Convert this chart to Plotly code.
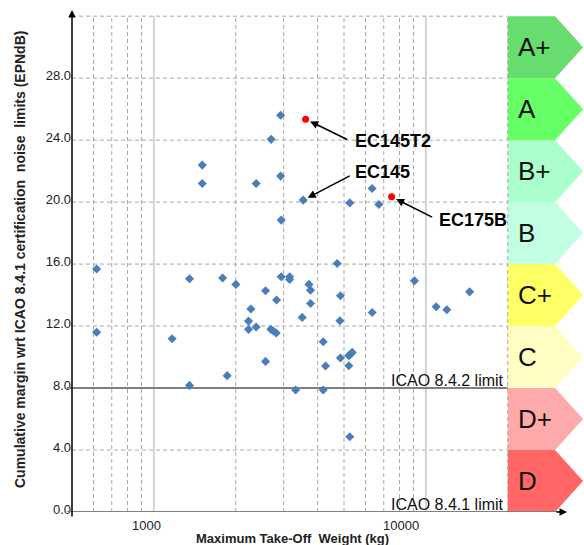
import math
import plotly.graph_objects as go

# ---------------- data ----------------
mtow_kg = [616, 616, 1352, 1789, 2002, 2574, 2273, 2228, 2228, 2377, 2692, 2750, 2817, 2825,
           2938, 3155, 3155, 1167, 2574, 1860, 1352, 3320, 4720, 3716, 3766, 4852, 3766, 3510,
           4828, 6345, 9080, 10910, 11940, 14480, 4194, 4852, 5209, 5286, 5360, 4276, 5209,
           4194, 5250, 2925, 2698, 1506, 1506, 2377, 2925, 3540, 2938, 6345, 5250, 6714]
margin_epndb = [15.68, 11.6, 15.05, 15.1, 14.69, 14.28, 13.1, 12.32, 11.79, 11.94, 11.79, 11.68, 11.55, 13.68,
                15.18, 15.18, 15.01, 11.18, 9.72, 8.8, 8.17, 7.87, 16.04, 14.69, 14.32, 13.96, 13.46, 12.56,
                12.34, 12.88, 14.92, 13.25, 13.05, 14.21, 10.99, 9.94, 10.09, 10.19, 10.3, 9.42, 9.44,
                7.87, 4.86, 25.61, 24.05, 22.39, 21.2, 21.2, 21.68, 20.13, 18.84, 20.88, 19.95, 19.85]

highlight_mtow = [3613, 7482]
highlight_margin = [25.35, 20.34]

callout_names = ["EC145T2", "EC145", "EC175B"]
callout_mtow = [3613, 3540, 7482]
callout_margin = [25.35, 20.13, 20.34]

grade_labels = ["D", "D+", "C", "C+", "B", "B+", "A", "A+"]
grade_lower = [0, 4, 8, 12, 16, 20, 24, 28]
grade_colors = ["#FF6666", "#FFAAAA", "#FFFFC4", "#FFFF66", "#C2FFE2", "#AAFFCC", "#66FF66", "#66DD6E"]

limit_labels = ["ICAO 8.4.1 limit", "ICAO 8.4.2 limit"]
limit_values = [0, 8]

y_tick_vals = [0, 4, 8, 12, 16, 20, 24, 28]
y_tick_text = ["0.0", "4.0", "8.0", "12.0", "16.0", "20.0", "24.0", "28.0"]
x_tick_vals = [1000, 10000]
x_tick_text = ["1000", "10000"]

y_grid = [4, 12, 16, 20, 24, 28, 32]
x_grid_minor = [600, 700, 800, 900, 2000, 3000, 4000, 5000, 6000, 7000, 8000, 9000, 20000]
x_grid_major = [1000, 10000]

# ---------------- figure ----------------
FONT = "Liberation Sans, Arial, sans-serif"
X_MIN, X_GRID_END = 500, 20000
Y_TOP = 32
BAND_W = 10 ** 0.174   # rectangle part of the grade arrows (factor on log axis)
BAND_TIP = 10 ** 0.277

fig = go.Figure()

# grade bands (arrow shapes)
for lab, lo, col in zip(grade_labels, grade_lower, grade_colors):
    hi = lo + 4
    xr = X_GRID_END * BAND_W
    xt = X_GRID_END * BAND_TIP
    fig.add_trace(go.Scatter(
        x=[X_GRID_END, xr, xt, xr, X_GRID_END, X_GRID_END],
        y=[lo, lo, (lo + hi) / 2, hi, hi, lo],
        mode="lines", fill="toself", fillcolor=col, line=dict(width=0, color=col),
        hoverinfo="skip", showlegend=False))

# horizontal dashed grid
gx, gy = [], []
for v in y_grid:
    gx += [X_MIN, X_GRID_END, None]
    gy += [v, v, None]
fig.add_trace(go.Scatter(x=gx, y=gy, mode="lines",
                         line=dict(color="#A8A8A8", width=1, dash="4px,3px"),
                         hoverinfo="skip", showlegend=False))
# vertical dashed grid
gx, gy = [], []
for v in x_grid_minor:
    gx += [v, v, None]
    gy += [0, Y_TOP, None]
fig.add_trace(go.Scatter(x=gx, y=gy, mode="lines",
                         line=dict(color="#A8A8A8", width=1, dash="4px,3px"),
                         hoverinfo="skip", showlegend=False))
gx, gy = [], []
for v in x_grid_major:
    gx += [v, v, None]
    gy += [0, Y_TOP, None]
fig.add_trace(go.Scatter(x=gx, y=gy, mode="lines",
                         line=dict(color="#C8C8C8", width=1.5),
                         hoverinfo="skip", showlegend=False))

# limit lines
limit_end = [31000, X_GRID_END]
for val, xe in zip(limit_values, limit_end):
    fig.add_trace(go.Scatter(x=[X_MIN, xe], y=[val, val], mode="lines",
                             line=dict(color="#808080", width=2),
                             hoverinfo="skip", showlegend=False))
    fig.add_shape(type="line", xref="paper", yref="y", x0=-0.01, x1=0, y0=val, y1=val,
                  line=dict(color="#808080", width=2))

# data points
fig.add_trace(go.Scatter(x=mtow_kg, y=margin_epndb, mode="markers",
                         marker=dict(symbol="diamond", size=7, color="#4A7EBB"),
                         showlegend=False))
fig.add_trace(go.Scatter(x=highlight_mtow, y=highlight_margin, mode="markers",
                         marker=dict(symbol="circle", size=7, color="#FF0000"),
                         showlegend=False))

ann = []
# axis arrows
ann.append(dict(xref="paper", yref="paper", x=0, y=1.0, ax=0, ay=508, text="",
                showarrow=True, arrowhead=2, arrowsize=1, arrowwidth=1.5, arrowcolor="black"))
ann.append(dict(xref="paper", yref="y", x=(567 - 72) / 512, y=0, ax=-12, ay=0, text="",
                showarrow=True, arrowhead=2, arrowsize=1, arrowwidth=1.5, arrowcolor="black"))

# grade labels
for lab, lo in zip(grade_labels, grade_lower):
    ann.append(dict(xref="x", yref="y", x=math.log10(X_GRID_END), y=lo + 2, xanchor="left",
                    yanchor="middle", xshift=8, text=lab, showarrow=False,
                    font=dict(family=FONT, size=26, color="#111111")))

# limit labels
for lab, val in zip(limit_labels, limit_values):
    ann.append(dict(xref="x", yref="y", x=math.log10(X_GRID_END), y=val, xanchor="right",
                    yanchor="bottom", xshift=-2, yshift=-3, text=lab, showarrow=False,
                    font=dict(family=FONT, size=16, color="#111111")))

# callouts
arrow_off = [(43, 21), (48, -25), (42, 21)]
text_off = [(87, -22), (79, 28), (81, -23)]
for name, xv, yv, (ax, ay), (tx, ty) in zip(callout_names, callout_mtow, callout_margin, arrow_off, text_off):
    ann.append(dict(xref="x", yref="y", x=math.log10(xv), y=yv, ax=ax, ay=ay, text="",
                    showarrow=True, arrowhead=2, arrowsize=1, arrowwidth=1.6,
                    arrowcolor="black", standoff=5))
    ann.append(dict(xref="x", yref="y", x=math.log10(xv), y=yv, xshift=tx, yshift=ty,
                    text="<b>%s</b>" % name, showarrow=False,
                    font=dict(family=FONT, size=18, color="black")))

# x tick labels
for v, t, sh in zip(x_tick_vals, x_tick_text, [-7, -25]):
    ann.append(dict(xref="x", yref="paper", x=math.log10(v), y=0, yanchor="top", yshift=-4,
                    xshift=sh, text=t, showarrow=False,
                    font=dict(family=FONT, size=13, color="#222222")))

# axis titles
ann.append(dict(xref="paper", yref="paper", x=(292 - 72) / 512, y=(512 - 538) / 502,
                xanchor="center", yanchor="middle", showarrow=False,
                text="<b>Maximum Take-Off  Weight (kg)</b>",
                font=dict(family=FONT, size=13, color="#222222")))
ann.append(dict(xref="paper", yref="paper", x=(20 - 72) / 512, y=(512 - 260) / 502,
                xanchor="center", yanchor="middle", showarrow=False, textangle=-90,
                text="<b>Cumulative margin wrt ICAO 8.4.1 certification  noise  limits (EPNdB)</b>",
                font=dict(family=FONT, size=14, color="#222222")))

fig.update_layout(
    width=584, height=545,
    margin=dict(l=72, r=0, t=10, b=33),
    paper_bgcolor="white", plot_bgcolor="white",
    hovermode=False, showlegend=False,
    annotations=ann,
    xaxis=dict(type="log", range=[math.log10(X_MIN), math.log10(X_MIN) + 512 / 272],
               showgrid=False, zeroline=False, showline=False, showticklabels=False, ticks=""),
    yaxis=dict(range=[0, 32.4], tickvals=y_tick_vals, ticktext=y_tick_text,
               showgrid=False, zeroline=False, showline=False, ticks="",
               ticklabelshift=-3,
               tickfont=dict(family=FONT, size=13, color="#222222")),
)

fig.write_html("out.html")
